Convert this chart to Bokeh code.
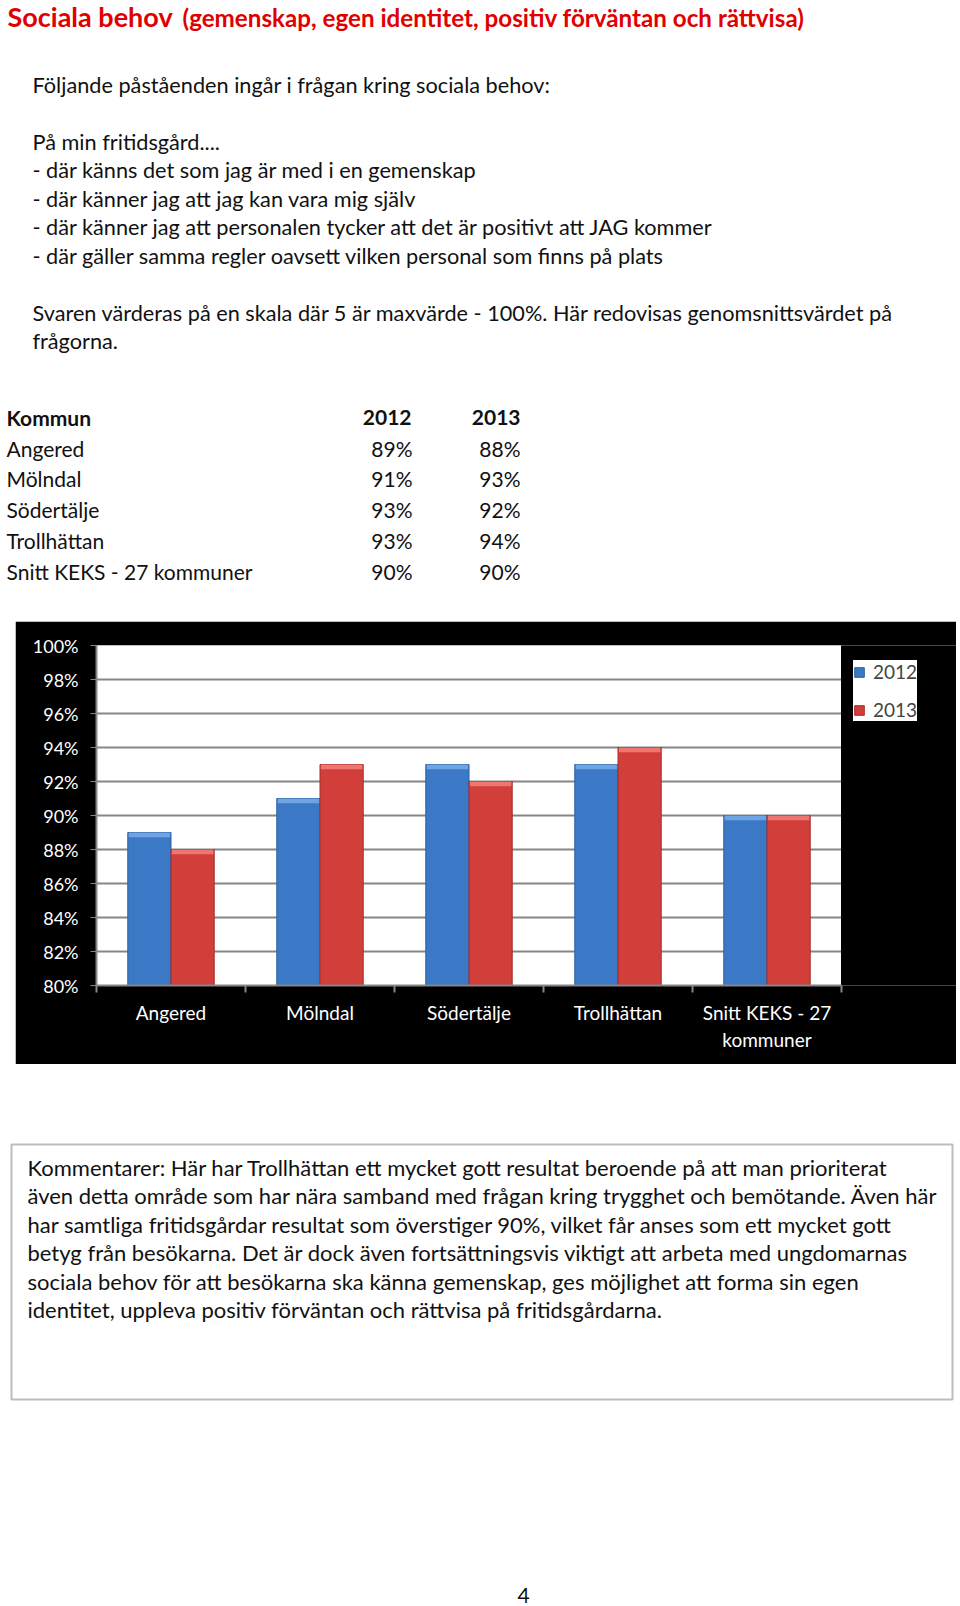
from bokeh.plotting import figure
from bokeh.models import (Range1d, FixedTicker, NumeralTickFormatter, Legend, LegendItem,
                          Spacer, ColumnDataSource)
from bokeh.layouts import column, row
from bokeh.core.properties import value
from bokeh.embed import file_html
from bokeh.resources import INLINE

# ---------------- data ----------------
categories = ["Angered", "Mölndal", "Södertälje", "Trollhättan", "Snitt KEKS - 27 kommuner"]
axis_labels = ["Angered", "Mölndal", "Södertälje", "Trollhättan", "Snitt KEKS - 27\nkommuner"]
years = ["2012", "2013"]
values_2012 = [0.89, 0.91, 0.93, 0.93, 0.90]
values_2013 = [0.88, 0.93, 0.92, 0.94, 0.90]
y_ticks = [0.80, 0.82, 0.84, 0.86, 0.88, 0.90, 0.92, 0.94, 0.96, 0.98, 1.00]

title_main = "Sociala behov"
title_sub = "(gemenskap, egen identitet, positiv förväntan och rättvisa)"
intro_lines = [
    "Följande påståenden ingår i frågan kring sociala behov:",
    "",
    "På min fritidsgård....",
    "- där känns det som jag är med i en gemenskap",
    "- där känner jag att jag kan vara mig själv",
    "- där känner jag att personalen tycker att det är positivt att JAG kommer",
    "- där gäller samma regler oavsett vilken personal som finns på plats",
    "",
    "Svaren värderas på en skala där 5 är maxvärde - 100%. Här redovisas genomsnittsvärdet på",
    "frågorna.",
]
comment_lines = [
    "Kommentarer: Här har Trollhättan ett mycket gott resultat  beroende på att man prioriterat",
    "även detta område som har nära samband med frågan kring trygghet och bemötande. Även här",
    "har samtliga fritidsgårdar resultat som överstiger 90%, vilket får anses som ett mycket gott",
    "betyg från besökarna. Det är dock även fortsättningsvis viktigt att arbeta med ungdomarnas",
    "sociala behov för att besökarna ska känna gemenskap, ges möjlighet att forma sin egen",
    "identitet,  uppleva positiv förväntan och rättvisa på fritidsgårdarna.",
]
page_number = "4"

FONT = value("Lato")
W = 960
INK = "#111111"


def blank(width, height, y0, y1):
    f = figure(width=width, height=height, x_range=Range1d(0, width), y_range=Range1d(y1, y0),
               output_backend="svg", toolbar_location=None, min_border=0,
               x_axis_location=None, y_axis_location=None, outline_line_color=None)
    f.grid.visible = False
    return f


# ---------------- header (page text + table) ----------------
HEAD_H = 621
head = blank(W, HEAD_H, 0, HEAD_H)
head.text(x=[7], y=[16], text=[title_main], text_font=FONT, text_font_size="27px",
          text_font_style="bold", text_color="#e00000", text_baseline="middle")
head.text(x=[182], y=[17], text=[title_sub], text_font=FONT, text_font_size="24.2px",
          text_font_style="bold", text_color="#e00000", text_baseline="middle")

line_y0, line_dy = 84, 28.5
ys = [line_y0 + i * line_dy for i in range(len(intro_lines))]
head.text(x=[32] * len(intro_lines), y=ys, text=intro_lines, text_font=FONT,
          text_font_size="21.7px", text_color=INK, text_baseline="middle")

# table
row_y0, row_dy = 417, 30.7
head.text(x=[6], y=[row_y0], text=["Kommun"], text_font=FONT, text_font_size="21px",
          text_font_style="bold", text_color=INK, text_baseline="middle")
head.text(x=[411, 520], y=[row_y0, row_y0], text=years, text_font=FONT, text_font_size="21px",
          text_font_style="bold", text_color=INK, text_baseline="middle", text_align="right")
row_ys = [row_y0 + (i + 1) * row_dy for i in range(len(categories))]
head.text(x=[6] * len(categories), y=row_ys, text=categories, text_font=FONT,
          text_font_size="21px", text_color=INK, text_baseline="middle")
head.text(x=[412] * len(categories), y=row_ys, text=[f"{v*100:.0f}%" for v in values_2012],
          text_font=FONT, text_font_size="21px", text_color=INK,
          text_baseline="middle", text_align="right")
head.text(x=[520] * len(categories), y=row_ys, text=[f"{v*100:.0f}%" for v in values_2013],
          text_font=FONT, text_font_size="21px", text_color=INK,
          text_baseline="middle", text_align="right")

# ---------------- chart ----------------
GRAY = "#868686"
N = len(categories)
PLOT_W, FRAME_W = 745, 860          # white plot area width, frame incl. legend strip
x_end = N * FRAME_W / PLOT_W
chart = figure(width=941, height=443, x_range=Range1d(0, x_end),
               y_range=Range1d(0.80, 1.00), output_backend="svg", toolbar_location=None,
               min_border_left=81, min_border_right=0, min_border_top=24,
               min_border_bottom=79, border_fill_color="black",
               background_fill_color="white", outline_line_color=None)

xc = [i + 0.5 for i in range(N)]
bw, off = 0.29, 0.145
src = ColumnDataSource(dict(
    x1=[x - off for x in xc], x2=[x + off for x in xc],
    v1=values_2012, v2=values_2013,
    c1=[v - 0.0028 for v in values_2012], c2=[v - 0.0028 for v in values_2013],
))

r1 = chart.vbar(x="x1", top="v1", bottom=0.80, width=bw, source=src,
                fill_color="#3b78c6", line_color="#2c5f9e", line_width=1)
r2 = chart.vbar(x="x2", top="v2", bottom=0.80, width=bw, source=src,
                fill_color="#d23f3b", line_color="#a32c29", line_width=1)
# bevel highlights
chart.vbar(x="x1", top="v1", bottom="c1", width=bw * 0.96, source=src,
           fill_color="#6fa3e3", line_color=None)
chart.vbar(x="x2", top="v2", bottom="c2", width=bw * 0.96, source=src,
           fill_color="#ee7672", line_color=None)

# black strip to the right of the plot area (legend zone)
chart.quad(left=[N], right=[x_end], bottom=[0.80], top=[1.00],
           fill_color="black", line_color="black")

chart.xgrid.visible = False
chart.ygrid.ticker = FixedTicker(ticks=y_ticks)
chart.ygrid.grid_line_color = GRAY
chart.ygrid.grid_line_width = 2
chart.ygrid.level = "underlay"

ya = chart.yaxis[0]
ya.ticker = FixedTicker(ticks=y_ticks)
ya.formatter = NumeralTickFormatter(format="0%")
ya.major_label_text_color = "white"
ya.major_label_text_font = "Lato"
ya.major_label_text_font_size = "18px"
ya.major_tick_out = 6
ya.major_tick_in = 0
ya.minor_tick_line_color = None
ya.major_tick_line_color = GRAY
ya.axis_line_color = GRAY
ya.axis_line_width = 2
ya.major_label_standoff = 12

xa = chart.xaxis[0]
xa.bounds = (0, N)
xa.ticker = FixedTicker(ticks=xc, minor_ticks=list(range(N + 1)))
xa.major_label_overrides = {x: lab for x, lab in zip(xc, axis_labels)}
xa.major_label_text_color = "white"
xa.major_label_text_font = "Lato"
xa.major_label_text_font_size = "19px"
xa.major_tick_out = 0
xa.major_tick_in = 0
xa.minor_tick_out = 7
xa.minor_tick_in = 0
xa.minor_tick_line_color = GRAY
xa.minor_tick_line_width = 2
xa.axis_line_color = GRAY
xa.axis_line_width = 2
xa.major_label_standoff = 8

legend = Legend(items=[LegendItem(label=years[0], renderers=[r1]),
                       LegendItem(label=years[1], renderers=[r2])],
                location=(PLOT_W + 12, 264), background_fill_color="white",
                background_fill_alpha=1, border_line_color=None,
                label_text_font="Lato", label_text_font_size="19px",
                glyph_width=12, glyph_height=12, label_height=18,
                spacing=15, padding=12, margin=0, label_standoff=8)
chart.add_layout(legend, "center")

chart_row = row(Spacer(width=15, height=443), chart, Spacer(width=4, height=443))

# ---------------- footer (comment box + page number) ----------------
FOOT_H = 1606 - 1064
foot = blank(W, FOOT_H, 1064, 1606)
foot.quad(left=[11], right=[952], top=[1144], bottom=[1399], fill_color="white",
          line_color="#bdbdbd", line_width=2)
cys = [1167 + i * 28.4 for i in range(len(comment_lines))]
foot.text(x=[27] * len(comment_lines), y=cys, text=comment_lines, text_font=FONT,
          text_font_size="22px", text_color=INK, text_baseline="middle")
foot.text(x=[523], y=[1595], text=[page_number], text_font=FONT, text_font_size="21px",
          text_color=INK, text_baseline="middle", text_align="center")

page = column(head, chart_row, foot, spacing=0)
open("out.html", "w").write(file_html(page, INLINE))
